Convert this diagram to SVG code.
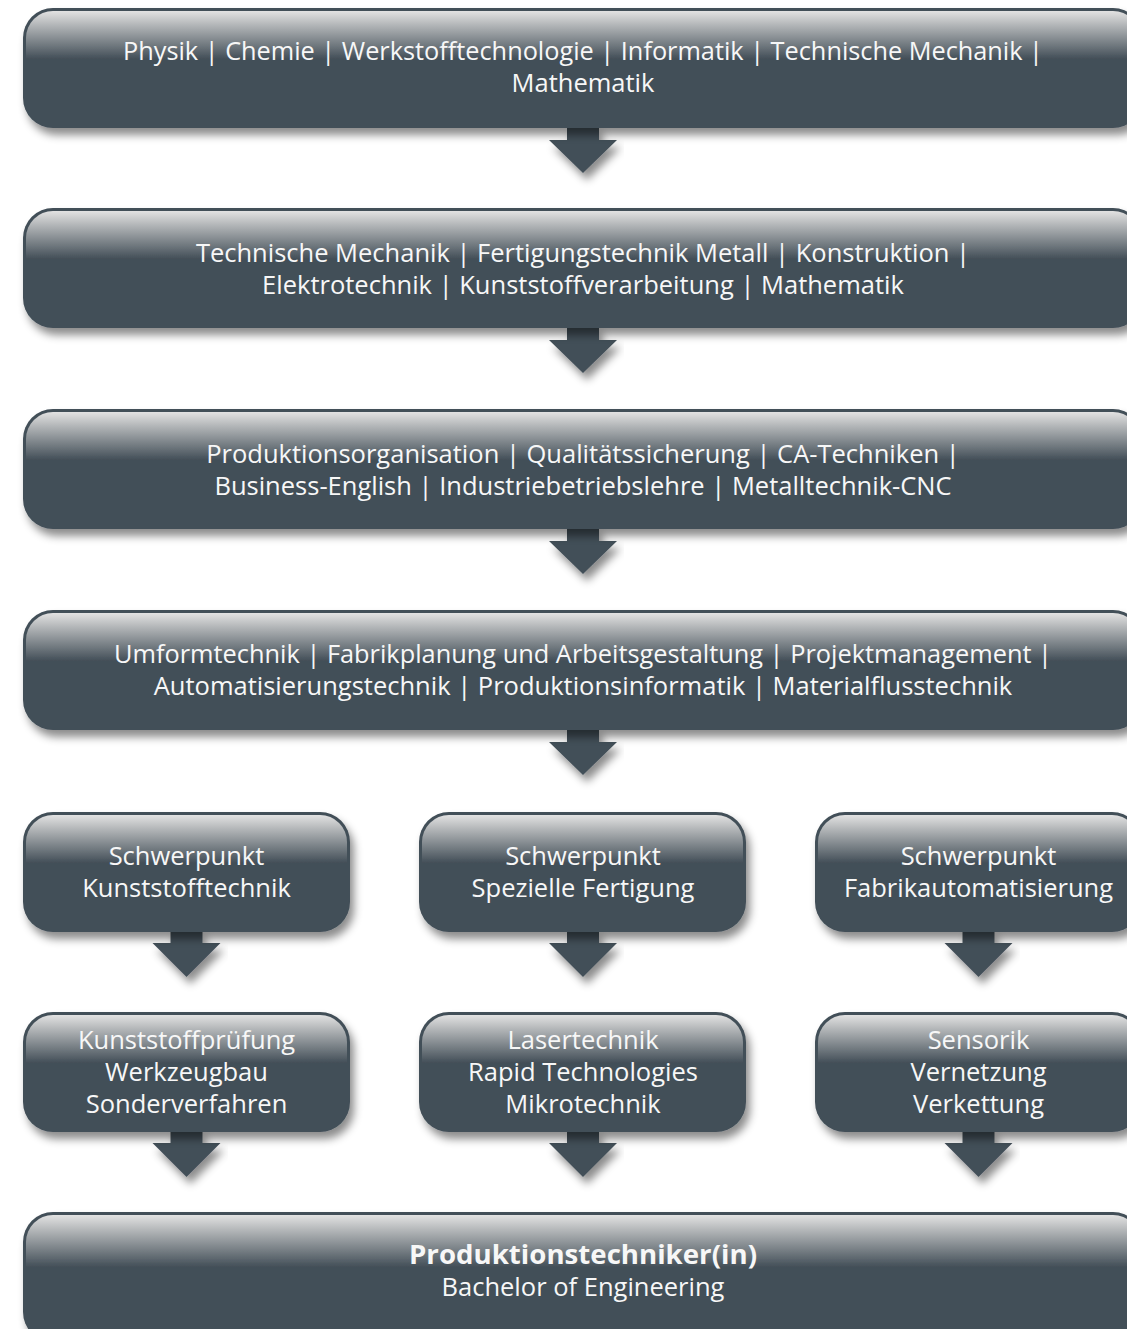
<svg xmlns="http://www.w3.org/2000/svg" width="1127" height="1329" viewBox="0 0 1127 1329">
<defs>
  <linearGradient id="gl" x1="0" y1="0" x2="0" y2="1">
    <stop offset="0" stop-color="#e2e2e2"/>
    <stop offset="0.12" stop-color="#b4b7b9"/>
    <stop offset="0.42" stop-color="#434f58"/>
    <stop offset="1" stop-color="#434f58"/>
  </linearGradient>
  <filter id="sh" x="-10%" y="-20%" width="120%" height="150%">
    <feDropShadow dx="4" dy="7" stdDeviation="4" flood-color="#000" flood-opacity="0.45"/>
  </filter>
  <style>
    .outer{fill:#434f58;}
    .inner{fill:url(#gl);}
    .t{font-family:"Open Sans","Noto Sans",sans-serif;font-size:25.5px;fill:#f7f7f7;text-anchor:middle;}
    .b{font-weight:bold;font-size:27px;}
    .arr{fill:#434f58;filter:url(#sh);}
  </style>
</defs>
<rect width="1127" height="1329" fill="#ffffff"/>

<g id="connectors">
  <path class="arr" d="M567 126 H599 V140 H617 L583 173 L549 140 H567 Z"/>
  <path class="arr" d="M567 326 H599 V340 H617 L583 373 L549 340 H567 Z"/>
  <path class="arr" d="M567 527 H599 V541 H617 L583 574 L549 541 H567 Z"/>
  <path class="arr" d="M567 728 H599 V742 H617 L583 775 L549 742 H567 Z"/>
  <path class="arr" d="M170.5 930 H202.5 V943 H220.5 L186.5 977 L152.5 943 H170.5 Z"/>
  <path class="arr" d="M567 930 H599 V943 H617 L583 977 L549 943 H567 Z"/>
  <path class="arr" d="M962.5 930 H994.5 V943 H1012.5 L978.5 977 L944.5 943 H962.5 Z"/>
  <path class="arr" d="M170.5 1130 H202.5 V1143 H220.5 L186.5 1177 L152.5 1143 H170.5 Z"/>
  <path class="arr" d="M567 1130 H599 V1143 H617 L583 1177 L549 1143 H567 Z"/>
  <path class="arr" d="M962.5 1130 H994.5 V1143 H1012.5 L978.5 1177 L944.5 1143 H962.5 Z"/>
</g>

<g id="box1" filter="url(#sh)">
  <rect class="outer" x="23" y="8" width="1120" height="120" rx="30"/>
  <rect class="inner" x="26" y="11" width="1114" height="114" rx="27"/>
</g>
<text class="t" x="583" y="60" textLength="920" lengthAdjust="spacingAndGlyphs">Physik | Chemie | Werkstofftechnologie | Informatik | Technische Mechanik |</text>
<text class="t" x="583" y="92">Mathematik</text>

<g id="box2" filter="url(#sh)">
  <rect class="outer" x="23" y="208" width="1120" height="120" rx="30"/>
  <rect class="inner" x="26" y="211" width="1114" height="114" rx="27"/>
</g>
<text class="t" x="583" y="262">Technische Mechanik | Fertigungstechnik Metall | Konstruktion |</text>
<text class="t" x="583" y="294">Elektrotechnik | Kunststoffverarbeitung | Mathematik</text>

<g id="box3" filter="url(#sh)">
  <rect class="outer" x="23" y="409" width="1120" height="120" rx="30"/>
  <rect class="inner" x="26" y="412" width="1114" height="114" rx="27"/>
</g>
<text class="t" x="583" y="463">Produktionsorganisation | Qualitätssicherung | CA-Techniken |</text>
<text class="t" x="583" y="495">Business-English | Industriebetriebslehre | Metalltechnik-CNC</text>

<g id="box4" filter="url(#sh)">
  <rect class="outer" x="23" y="610" width="1120" height="120" rx="30"/>
  <rect class="inner" x="26" y="613" width="1114" height="114" rx="27"/>
</g>
<text class="t" x="583" y="663" textLength="938" lengthAdjust="spacingAndGlyphs">Umformtechnik | Fabrikplanung und Arbeitsgestaltung | Projektmanagement |</text>
<text class="t" x="583" y="695">Automatisierungstechnik | Produktionsinformatik | Materialflusstechnik</text>

<g id="box5a" filter="url(#sh)">
  <rect class="outer" x="23" y="812" width="327" height="120" rx="30"/>
  <rect class="inner" x="26" y="815" width="321" height="114" rx="27"/>
</g>
<text class="t" x="186.5" y="865">Schwerpunkt</text>
<text class="t" x="186.5" y="897">Kunststofftechnik</text>

<g id="box5b" filter="url(#sh)">
  <rect class="outer" x="419" y="812" width="327" height="120" rx="30"/>
  <rect class="inner" x="422" y="815" width="321" height="114" rx="27"/>
</g>
<text class="t" x="583" y="865">Schwerpunkt</text>
<text class="t" x="583" y="897">Spezielle Fertigung</text>

<g id="box5c" filter="url(#sh)">
  <rect class="outer" x="815" y="812" width="327" height="120" rx="30"/>
  <rect class="inner" x="818" y="815" width="321" height="114" rx="27"/>
</g>
<text class="t" x="978.5" y="865">Schwerpunkt</text>
<text class="t" x="978.5" y="897">Fabrikautomatisierung</text>

<g id="box6a" filter="url(#sh)">
  <rect class="outer" x="23" y="1012" width="327" height="120" rx="30"/>
  <rect class="inner" x="26" y="1015" width="321" height="114" rx="27"/>
</g>
<text class="t" x="186.5" y="1049">Kunststoffprüfung</text>
<text class="t" x="186.5" y="1081">Werkzeugbau</text>
<text class="t" x="186.5" y="1113">Sonderverfahren</text>

<g id="box6b" filter="url(#sh)">
  <rect class="outer" x="419" y="1012" width="327" height="120" rx="30"/>
  <rect class="inner" x="422" y="1015" width="321" height="114" rx="27"/>
</g>
<text class="t" x="583" y="1049">Lasertechnik</text>
<text class="t" x="583" y="1081">Rapid Technologies</text>
<text class="t" x="583" y="1113">Mikrotechnik</text>

<g id="box6c" filter="url(#sh)">
  <rect class="outer" x="815" y="1012" width="327" height="120" rx="30"/>
  <rect class="inner" x="818" y="1015" width="321" height="114" rx="27"/>
</g>
<text class="t" x="978.5" y="1049">Sensorik</text>
<text class="t" x="978.5" y="1081">Vernetzung</text>
<text class="t" x="978.5" y="1113">Verkettung</text>

<g id="box7" filter="url(#sh)">
  <rect class="outer" x="23" y="1212" width="1120" height="130" rx="30"/>
  <rect class="inner" x="26" y="1215" width="1114" height="124" rx="27"/>
</g>
<text class="t b" x="583" y="1264" textLength="348" lengthAdjust="spacingAndGlyphs">Produktionstechniker(in)</text>
<text class="t" x="583" y="1296">Bachelor of Engineering</text>
</svg>
